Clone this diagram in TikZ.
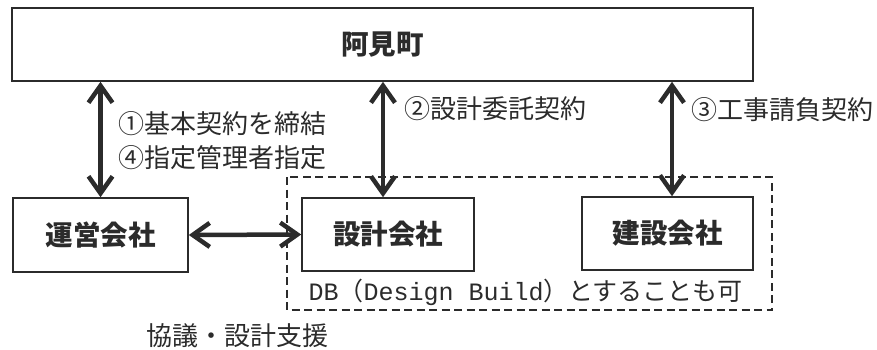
\documentclass[tikz,border=0pt]{standalone}
\usepackage{fontspec}
\usepackage{xcolor}
\usepackage{tikz}
\usetikzlibrary{positioning,arrows.meta}
\newfontfamily\jp{Noto Sans CJK JP}
\newfontfamily\latinmono{Liberation Mono}
\definecolor{ink}{HTML}{2B2B2B}

\begin{document}
\begin{tikzpicture}[x=1pt,y=-1pt,
    every node/.style={font=\jp\fontsize{26}{30}\selectfont, text=ink},
    orgbox/.style={draw=ink, line width=1.6pt, font=\jp\bfseries\fontsize{27.5}{30}\selectfont, inner sep=0pt},
    dbl/.style={{Straight Barb[length=17pt,width=24pt,line width=4.5pt]}-{Straight Barb[length=17pt,width=24pt,line width=4.5pt]}, draw=ink, line width=4.5pt},
    dbbox/.style={draw=ink, line width=1.8pt, dash pattern=on 8pt off 4.5pt}]
    \useasboundingbox (0,0) rectangle (877,349);

    \node[orgbox, minimum width=741pt, minimum height=73pt] (town) at (382.5,44.5) {阿見町};

    \node[orgbox, minimum width=175pt, minimum height=74pt] (ops) at (100.5,235) {運営会社};
    \node[orgbox, minimum width=172pt, minimum height=73pt] (design) at (388,234.5) {設計会社};
    \node[orgbox, minimum width=171pt, minimum height=73pt] (build) at (667.5,233.5) {建設会社};

    % DB area
    \draw[dbbox] (287,177) rectangle (772,310);
    \node[anchor=west, font=\jp\fontsize{25}{28}\selectfont] (dbnote) at (305,292)
        {{\latinmono DB}（{\latinmono Design Build}）とすることも可};

    % contracts
    \draw[dbl] (town.south -| ops.north) -- (ops.north);
    \draw[dbl] ([xshift=-5pt]town.south -| design.north) -- ([xshift=-5pt]design.north);
    \draw[dbl] ([xshift=4.5pt]town.south -| build.north) -- ([xshift=4.5pt]build.north);
    \draw[dbl] (ops.east) -- (design.west);

    \node[anchor=west] (c1) at (115,124) {①基本契約を締結};
    \node[anchor=west] (c4) at (115,158) {④指定管理者指定};
    \node[anchor=west] (c2) at (401,109) {②設計委託契約};
    \node[anchor=west] (c3) at (688,110) {③工事請負契約};
    \node (talk) at (237.5,336) {協議・設計支援};
\end{tikzpicture}
\end{document}
